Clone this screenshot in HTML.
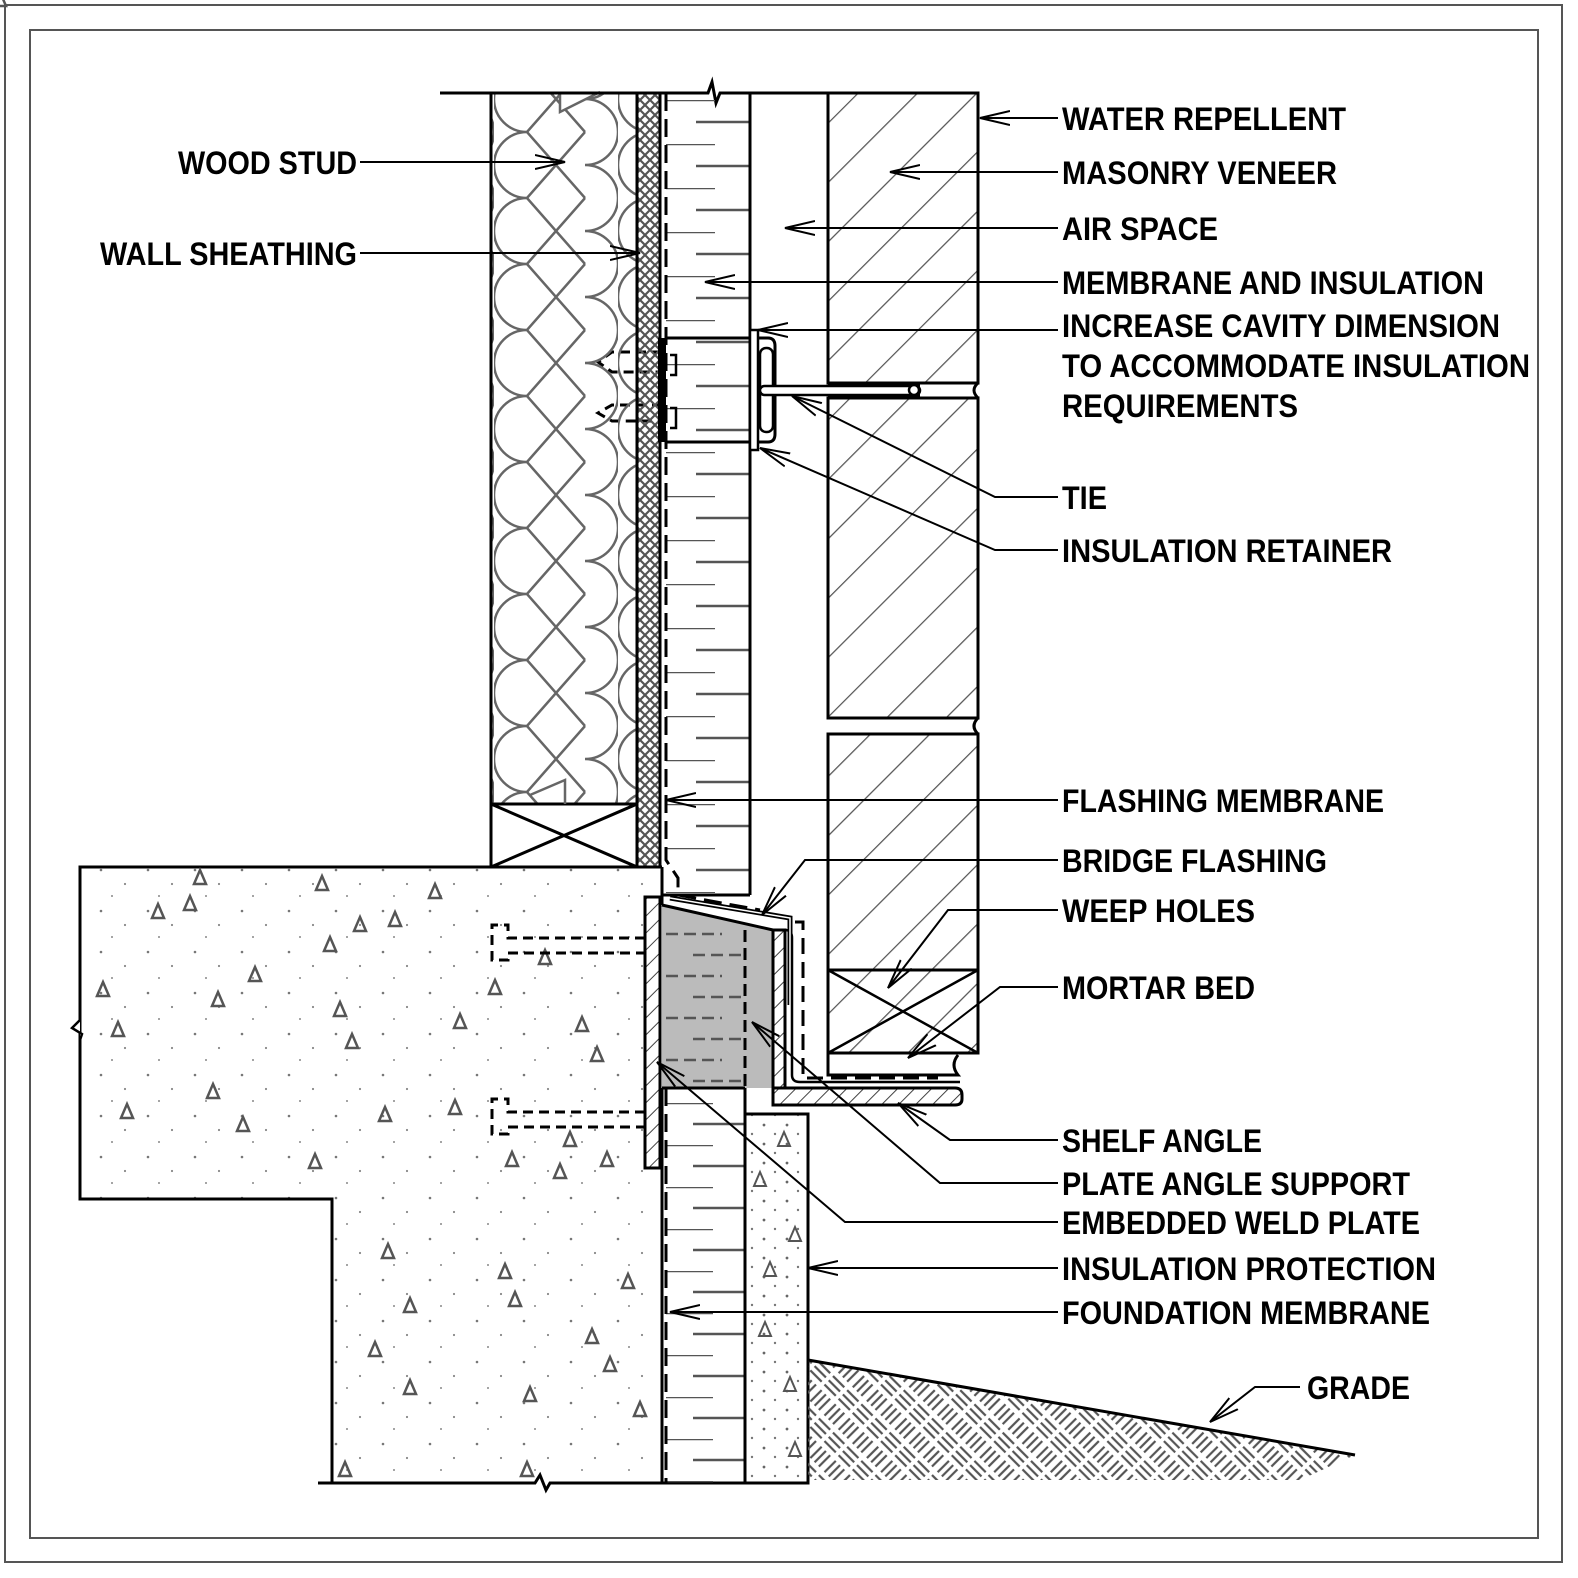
<!DOCTYPE html>
<html><head><meta charset="utf-8"><style>
html,body{margin:0;padding:0;background:#fff}
svg{display:block}
text{font-family:"Liberation Sans",Arial,sans-serif;font-size:32px;font-weight:bold;fill:#000}
</style></head><body>
<svg width="1578" height="1578" viewBox="0 0 1578 1578" xmlns="http://www.w3.org/2000/svg">
<defs>
<pattern id="hat" patternUnits="userSpaceOnUse" width="42" height="42" patternTransform="rotate(45)">
<line x1="0" y1="0" x2="0" y2="42" stroke="#555" stroke-width="2.5"/></pattern>
<pattern id="hatS" patternUnits="userSpaceOnUse" width="12" height="12" patternTransform="rotate(45)">
<line x1="0" y1="0" x2="0" y2="12" stroke="#444" stroke-width="2"/></pattern>
<pattern id="xh" patternUnits="userSpaceOnUse" width="10" height="10">
<path d="M0,0L10,10M10,0L0,10" stroke="#555" stroke-width="2.2"/></pattern>
<pattern id="batt" patternUnits="userSpaceOnUse" x="494" y="132" width="124" height="66">
<g fill="none" stroke="#666" stroke-width="2.5">
<path d="M33,0A33,33 0 0 0 33,66"/>
<path d="M91,-33A33,33 0 0 1 91,33M91,33A33,33 0 0 1 91,99"/>
<path d="M33,0L91,66M33,66L91,0"/></g></pattern>
<pattern id="tk" patternUnits="userSpaceOnUse" x="0" y="100" width="800" height="44">
<line x1="666" y1="0" x2="715" y2="0" stroke="#555" stroke-width="2.5"/>
<line x1="696" y1="22" x2="750" y2="22" stroke="#555" stroke-width="2.5"/></pattern>
<pattern id="tk2" patternUnits="userSpaceOnUse" x="0" y="1103" width="800" height="42">
<line x1="666" y1="0" x2="713" y2="0" stroke="#555" stroke-width="2.5"/>
<line x1="693" y1="21" x2="745" y2="21" stroke="#555" stroke-width="2.5"/></pattern>
<pattern id="dots" patternUnits="userSpaceOnUse" width="47" height="41">
<circle cx="7" cy="9" r="1.3" fill="#777"/><circle cx="31" cy="23" r="1.1" fill="#888"/><circle cx="18" cy="35" r="1" fill="#888"/></pattern>
<pattern id="dots2" patternUnits="userSpaceOnUse" width="23" height="19">
<circle cx="5" cy="4" r="1.4" fill="#666"/><circle cx="16" cy="13" r="1.2" fill="#777"/></pattern>
<pattern id="grd" patternUnits="userSpaceOnUse" width="40" height="40" patternTransform="rotate(45)">
<g stroke="#555" stroke-width="2.2">
<line x1="4" y1="2" x2="4" y2="18"/><line x1="10" y1="2" x2="10" y2="18"/><line x1="16" y1="2" x2="16" y2="18"/>
<line x1="22" y1="24" x2="38" y2="24"/><line x1="22" y1="30" x2="38" y2="30"/><line x1="22" y1="36" x2="38" y2="36"/>
<line x1="24" y1="2" x2="24" y2="18"/><line x1="30" y1="2" x2="30" y2="18"/><line x1="36" y1="2" x2="36" y2="18"/>
<line x1="2" y1="24" x2="18" y2="24"/><line x1="2" y1="30" x2="18" y2="30"/><line x1="2" y1="36" x2="18" y2="36"/></g></pattern>
<marker id="ar" markerWidth="32" markerHeight="20" refX="30" refY="10" orient="auto" markerUnits="userSpaceOnUse">
<path d="M0,3L30,10L0,17" fill="none" stroke="#000" stroke-width="2"/></marker>
</defs>
<rect width="1578" height="1578" fill="#fff"/>
<rect x="5" y="5" width="1557" height="1557" fill="none" stroke="#555" stroke-width="2"/>
<rect x="30" y="30" width="1508" height="1508" fill="none" stroke="#555" stroke-width="2"/>

<path d="M80,867H662V1483H332V1199H80Z" fill="url(#dots)" stroke="none"/>
<path d="M80,1032V867H662M80,1032V1199H332V1483" fill="none" stroke="#000" stroke-width="3"/>
<path d="M80,1020L72,1028L82,1034L80,1040" fill="#fff" stroke="#000" stroke-width="2.5"/>
<g fill="none" stroke="#555" stroke-width="2.5">
<path id="tr" d="M0,-8L6,6H-6Z"/>
</g>
<g fill="none" stroke="#555" stroke-width="2.5">
<use href="#tr" x="200" y="878"/><use href="#tr" x="158" y="912"/><use href="#tr" x="190" y="904"/>
<use href="#tr" x="322" y="884"/><use href="#tr" x="435" y="892"/><use href="#tr" x="395" y="920"/><use href="#tr" x="330" y="945"/>
<use href="#tr" x="360" y="925"/><use href="#tr" x="545" y="958"/><use href="#tr" x="255" y="975"/><use href="#tr" x="103" y="990"/>
<use href="#tr" x="218" y="1000"/><use href="#tr" x="340" y="1010"/><use href="#tr" x="460" y="1022"/><use href="#tr" x="495" y="988"/>
<use href="#tr" x="118" y="1030"/><use href="#tr" x="352" y="1042"/><use href="#tr" x="582" y="1025"/><use href="#tr" x="597" y="1055"/>
<use href="#tr" x="213" y="1092"/><use href="#tr" x="127" y="1112"/><use href="#tr" x="385" y="1115"/><use href="#tr" x="455" y="1108"/>
<use href="#tr" x="243" y="1125"/><use href="#tr" x="570" y="1140"/><use href="#tr" x="607" y="1160"/><use href="#tr" x="315" y="1162"/>
<use href="#tr" x="512" y="1160"/><use href="#tr" x="560" y="1172"/><use href="#tr" x="388" y="1252"/><use href="#tr" x="505" y="1272"/>
<use href="#tr" x="410" y="1306"/><use href="#tr" x="515" y="1300"/><use href="#tr" x="628" y="1282"/><use href="#tr" x="592" y="1337"/>
<use href="#tr" x="375" y="1350"/><use href="#tr" x="610" y="1365"/><use href="#tr" x="410" y="1388"/><use href="#tr" x="530" y="1395"/>
<use href="#tr" x="640" y="1410"/><use href="#tr" x="345" y="1470"/><use href="#tr" x="527" y="1470"/>
</g>
<path d="M318,1483H535L540,1475L546,1490L550,1483H808" fill="none" stroke="#000" stroke-width="3"/>

<g fill="none" stroke="#000" stroke-width="3" stroke-dasharray="10,6">
<path d="M645,938H508V925H492V960H508V953H645"/>
<path d="M645,1112H508V1099H492V1134H508V1127H645"/>
<path d="M662,352H612L598,362L612,372H662"/>
<path d="M662,405H612L598,413L612,421H662"/>
</g>

<rect x="491" y="93" width="146" height="774" fill="url(#batt)"/>
<rect x="491" y="804" width="146" height="63" fill="#fff"/>
<path d="M560,93V112L600,92" fill="#fff" stroke="#666" stroke-width="2.5"/>
<path d="M491,93V867H637V93M491,804H637M491,867L637,804M491,804L637,867" fill="none" stroke="#000" stroke-width="3"/>
<path d="M565,804V780L530,795" fill="none" stroke="#666" stroke-width="2.5"/>
<rect x="637" y="93" width="23" height="774" fill="url(#xh)" stroke="#000" stroke-width="3"/>
<path d="M440,93H708L712,82L716,103L720,93H978" fill="none" stroke="#000" stroke-width="3"/>

<rect x="662" y="93" width="88" height="800" fill="url(#tk)"/>
<path d="M750,93V895" stroke="#000" stroke-width="3"/>
<path d="M666,93V860L678,878V895L760,910" fill="none" stroke="#000" stroke-width="3" stroke-dasharray="18,8"/>
<path d="M662,880L662,895L750,895" fill="none" stroke="#000" stroke-width="3"/>
<rect x="658" y="338" width="8" height="104" fill="#000"/>
<path d="M666,338H768Q775,338 775,346V434Q775,442 768,442H666" fill="none" stroke="#000" stroke-width="3"/>
<rect x="750" y="330" width="8" height="120" fill="#fff" stroke="#000" stroke-width="2.5"/>
<rect x="760" y="348" width="13" height="84" rx="6" fill="#fff" stroke="#000" stroke-width="2.5"/>
<path d="M670,355H676V375H670M670,408H676V428H670" fill="none" stroke="#000" stroke-width="2.5"/>

<g stroke="#000" stroke-width="3">
<rect x="828" y="93" width="150" height="290" fill="url(#hat)"/>
<rect x="828" y="398" width="150" height="320" fill="url(#hat)"/>
<rect x="828" y="734" width="150" height="236" fill="url(#hat)"/>
<rect x="828" y="970" width="150" height="83" fill="url(#hat)"/>
<path d="M828,970L978,1053M828,1053L978,970" fill="none" stroke-width="2.5"/>
<path d="M828,1053V1075H958Q950,1065 958,1055" fill="none"/>
<path d="M978,718Q970,726 978,734M978,383Q970,390 978,398" fill="#fff"/>
</g>
<rect x="828" y="383" width="92" height="15" fill="#000"/>
<rect x="760" y="386" width="160" height="9" rx="4.5" fill="#fff" stroke="#000" stroke-width="2.5"/>
<circle cx="914" cy="390" r="5" fill="#fff" stroke="#000" stroke-width="2.5"/>

<path d="M662,905L773,930V1088H662Z" fill="#bbb"/>
<g stroke="#555" stroke-width="2.5" stroke-dasharray="12,6">
<path d="M666,934H722M693,955H745M666,976H722M693,997H745M666,1018H722M693,1039H745M666,1060H722M693,1081H745"/></g>
<path d="M745,930V1088" stroke="#000" stroke-width="3" stroke-dasharray="12,6"/>
<path d="M662,905L773,930" stroke="#000" stroke-width="3"/>
<rect x="645" y="897" width="15" height="271" fill="url(#hatS)" stroke="#000" stroke-width="3"/>
<path d="M773,930H785V1088H773Z" fill="url(#hatS)" stroke="#000" stroke-width="3"/>
<path d="M773,1088H955Q962,1088 962,1095V1099Q962,1105 955,1105H773Z" fill="url(#hatS)" stroke="#000" stroke-width="3"/>
<path d="M785,930Q792,930 792,938V1075Q792,1082 800,1082H960" fill="none" stroke="#000" stroke-width="2.5"/>
<path d="M670,898L790,918V1005" fill="none" stroke="#000" stroke-width="5"/>
<path d="M670,898L790,918V1005" fill="none" stroke="#fff" stroke-width="1.5"/>
<path d="M795,922H803V1078H938" fill="none" stroke="#000" stroke-width="3" stroke-dasharray="16,8"/>
<path d="M662,867V905" stroke="#000" stroke-width="3"/>

<rect x="662" y="1088" width="83" height="395" fill="url(#tk2)"/>
<path d="M662,1088V1483M745,1088V1483M662,1088H745" fill="none" stroke="#000" stroke-width="3"/>
<path d="M666,1088V1483" stroke="#000" stroke-width="3" stroke-dasharray="18,8"/>
<rect x="745" y="1114" width="63" height="369" fill="url(#dots2)" stroke="#000" stroke-width="3"/>
<g fill="none" stroke="#555" stroke-width="2"><use href="#tr" x="784" y="1140"/><use href="#tr" x="760" y="1180"/><use href="#tr" x="795" y="1235"/><use href="#tr" x="770" y="1270"/><use href="#tr" x="790" y="1385"/><use href="#tr" x="765" y="1330"/><use href="#tr" x="795" y="1450"/></g>

<path d="M808,1360L1355,1455L1300,1480H808Z" fill="url(#grd)"/>
<path d="M808,1360L1355,1455" stroke="#000" stroke-width="3"/>

<g fill="none" stroke="#000" stroke-width="2" marker-end="url(#ar)">
<path d="M1058,118H980"/>
<path d="M1058,172H890"/>
<path d="M1058,228H785"/>
<path d="M1058,282H705"/>
<path d="M1058,330H758"/>
<path d="M1058,497H995L792,396"/>
<path d="M1058,550H995L760,448"/>
<path d="M1058,800H666"/>
<path d="M1058,860H805L762,915"/>
<path d="M1058,910H948L888,988"/>
<path d="M1058,987H1000L908,1058"/>
<path d="M1058,1140H950L898,1103"/>
<path d="M1058,1183H940L752,1022"/>
<path d="M1058,1222H845L657,1062"/>
<path d="M1058,1268H808"/>
<path d="M1058,1312H670"/>
<path d="M1300,1387H1255L1210,1422"/>
<path d="M360,162H565"/>
<path d="M360,253H640"/>
</g>

<text x="1062" y="130" textLength="284" lengthAdjust="spacingAndGlyphs">WATER REPELLENT</text>
<text x="1062" y="184" textLength="275" lengthAdjust="spacingAndGlyphs">MASONRY VENEER</text>
<text x="1062" y="240" textLength="156" lengthAdjust="spacingAndGlyphs">AIR SPACE</text>
<text x="1062" y="294" textLength="422" lengthAdjust="spacingAndGlyphs">MEMBRANE AND INSULATION</text>
<text x="1062" y="337" textLength="438" lengthAdjust="spacingAndGlyphs">INCREASE CAVITY DIMENSION</text>
<text x="1062" y="377" textLength="468" lengthAdjust="spacingAndGlyphs">TO ACCOMMODATE INSULATION</text>
<text x="1062" y="417" textLength="236" lengthAdjust="spacingAndGlyphs">REQUIREMENTS</text>
<text x="1062" y="509" textLength="45" lengthAdjust="spacingAndGlyphs">TIE</text>
<text x="1062" y="562" textLength="330" lengthAdjust="spacingAndGlyphs">INSULATION RETAINER</text>
<text x="1062" y="812" textLength="322" lengthAdjust="spacingAndGlyphs">FLASHING MEMBRANE</text>
<text x="1062" y="872" textLength="265" lengthAdjust="spacingAndGlyphs">BRIDGE FLASHING</text>
<text x="1062" y="922" textLength="193" lengthAdjust="spacingAndGlyphs">WEEP HOLES</text>
<text x="1062" y="999" textLength="193" lengthAdjust="spacingAndGlyphs">MORTAR BED</text>
<text x="1062" y="1152" textLength="200" lengthAdjust="spacingAndGlyphs">SHELF ANGLE</text>
<text x="1062" y="1195" textLength="348" lengthAdjust="spacingAndGlyphs">PLATE ANGLE SUPPORT</text>
<text x="1062" y="1234" textLength="358" lengthAdjust="spacingAndGlyphs">EMBEDDED WELD PLATE</text>
<text x="1062" y="1280" textLength="374" lengthAdjust="spacingAndGlyphs">INSULATION PROTECTION</text>
<text x="1062" y="1324" textLength="368" lengthAdjust="spacingAndGlyphs">FOUNDATION MEMBRANE</text>
<text x="1307" y="1399" textLength="103" lengthAdjust="spacingAndGlyphs">GRADE</text>
<text x="178" y="174" textLength="179" lengthAdjust="spacingAndGlyphs">WOOD STUD</text>
<text x="100" y="265" textLength="257" lengthAdjust="spacingAndGlyphs">WALL SHEATHING</text>
</svg>
</body></html>
